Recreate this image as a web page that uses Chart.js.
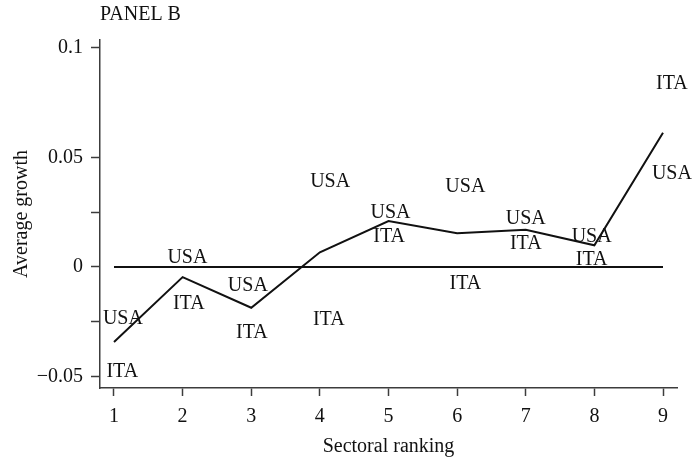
<!DOCTYPE html>
<html>
<head>
<meta charset="utf-8">
<script src="https://cdn.jsdelivr.net/npm/chart.js@4.4.1/dist/chart.umd.min.js"></script>
<style>
  html, body { margin: 0; padding: 0; background: #ffffff; }
  #wrap { width: 697px; height: 460px; position: relative; }
</style>
</head>
<body>
<div id="wrap"><canvas id="chart"></canvas></div>
<script>
// Sectoral ranking (x) and average growth of the ranked sectors (y)
const sectorRank = [1, 2, 3, 4, 5, 6, 7, 8, 9];
const avgGrowth = [-0.0342, -0.0046, -0.0186, 0.0067, 0.0210, 0.0154, 0.0170, 0.0099, 0.0613];

// Country markers placed in the plot
const usaX = [1.13, 2.07, 2.95, 4.15, 5.03, 6.12, 7.00, 7.96, 9.13];
const usaY = [-0.0228, 0.0050, -0.0078, 0.0397, 0.0253, 0.0371, 0.0225, 0.0146, 0.0431];
const itaX = [1.12, 2.09, 3.01, 4.13, 5.01, 6.12, 7.00, 7.96, 9.13];
const itaY = [-0.0470, -0.0163, -0.0295, -0.0233, 0.0146, -0.0072, 0.0111, 0.0041, 0.0842];

// Axis ticks
const xTickValues = [1, 2, 3, 4, 5, 6, 7, 8, 9];
const yTickValues = [-0.05, -0.025, 0, 0.025, 0.05, 0.1];
const yLabeledValues = [-0.05, 0, 0.05, 0.1];
const yLabelText = ['\u22120.05', '0', '0.05', '0.1'];

const FONT_FAMILY = '"Liberation Serif", "Times New Roman", serif';
const FONT_SIZE = 20;
const INK = '#111111';
const AXIS = '#3c3c3c';

function points(xs, ys) { return xs.map((x, i) => ({ x: x, y: ys[i] })); }

// Writes each point's tag text centred on the point, and the panel caption
const textMarks = {
  id: 'textMarks',
  afterDatasetsDraw(chart) {
    const ctx = chart.ctx;
    ctx.save();
    ctx.font = FONT_SIZE + 'px ' + FONT_FAMILY;
    ctx.fillStyle = INK;
    ctx.textAlign = 'center';
    ctx.textBaseline = 'alphabetic';
    const capHalf = FONT_SIZE * 0.331;
    chart.data.datasets.forEach((ds, i) => {
      if (!ds.tag) return;
      chart.getDatasetMeta(i).data.forEach(pt => {
        ctx.fillText(ds.tag, pt.x, pt.y + capHalf);
      });
    });
    ctx.textAlign = 'left';
    ctx.fillText('PANEL B', chart.chartArea.left, 20);
    ctx.restore();
  }
};

new Chart(document.getElementById('chart'), {
  type: 'scatter',
  data: {
    datasets: [
      {
        label: 'zero',
        data: [{ x: sectorRank[0], y: 0 }, { x: sectorRank[sectorRank.length - 1], y: 0 }],
        showLine: true,
        borderColor: INK,
        borderWidth: 2,
        pointRadius: 0
      },
      {
        label: 'Average growth',
        data: points(sectorRank, avgGrowth),
        showLine: true,
        borderColor: INK,
        borderWidth: 2,
        pointRadius: 0,
        tension: 0
      },
      { label: 'USA', tag: 'USA', data: points(usaX, usaY), pointRadius: 0, showLine: false },
      { label: 'ITA', tag: 'ITA', data: points(itaX, itaY), pointRadius: 0, showLine: false }
    ]
  },
  options: {
    responsive: true,
    maintainAspectRatio: false,
    animation: false,
    events: [],
    layout: { padding: { left: 0, right: 20, top: 40, bottom: 0 } },
    plugins: {
      legend: { display: false },
      tooltip: { enabled: false },
      title: { display: false }
    },
    scales: {
      x: {
        type: 'linear',
        min: 0.796,
        max: 9.204,
        afterBuildTicks: s => { s.ticks = xTickValues.map(v => ({ value: v })); },
        afterFit: s => { s.height = 72; },
        ticks: {
          callback: v => String(v),
          font: { family: FONT_FAMILY, size: FONT_SIZE },
          color: INK,
          padding: 9,
          maxRotation: 0
        },
        grid: { drawOnChartArea: false, drawTicks: true, tickLength: 8, tickColor: AXIS, tickWidth: 1.5 },
        border: { display: true, color: AXIS, width: 1.5 },
        title: {
          display: true,
          text: 'Sectoral ranking',
          font: { family: FONT_FAMILY, size: FONT_SIZE },
          color: INK,
          padding: { top: 0, bottom: 1 }
        }
      },
      y: {
        type: 'linear',
        min: -0.05525,
        max: 0.10365,
        afterBuildTicks: s => { s.ticks = yTickValues.map(v => ({ value: v })); },
        afterFit: s => { s.width = 100; },
        ticks: {
          callback: v => {
            const k = yLabeledValues.findIndex(t => Math.abs(t - v) < 1e-9);
            return k >= 0 ? yLabelText[k] : '';
          },
          font: { family: FONT_FAMILY, size: FONT_SIZE },
          color: INK,
          padding: 8
        },
        grid: { drawOnChartArea: false, drawTicks: true, tickLength: 9, tickColor: AXIS, tickWidth: 1.5 },
        border: { display: true, color: AXIS, width: 1.5 },
        title: {
          display: true,
          text: 'Average growth',
          font: { family: FONT_FAMILY, size: FONT_SIZE },
          color: INK,
          padding: { top: 10, bottom: 0 }
        }
      }
    }
  },
  plugins: [textMarks]
});
</script>
</body>
</html>
